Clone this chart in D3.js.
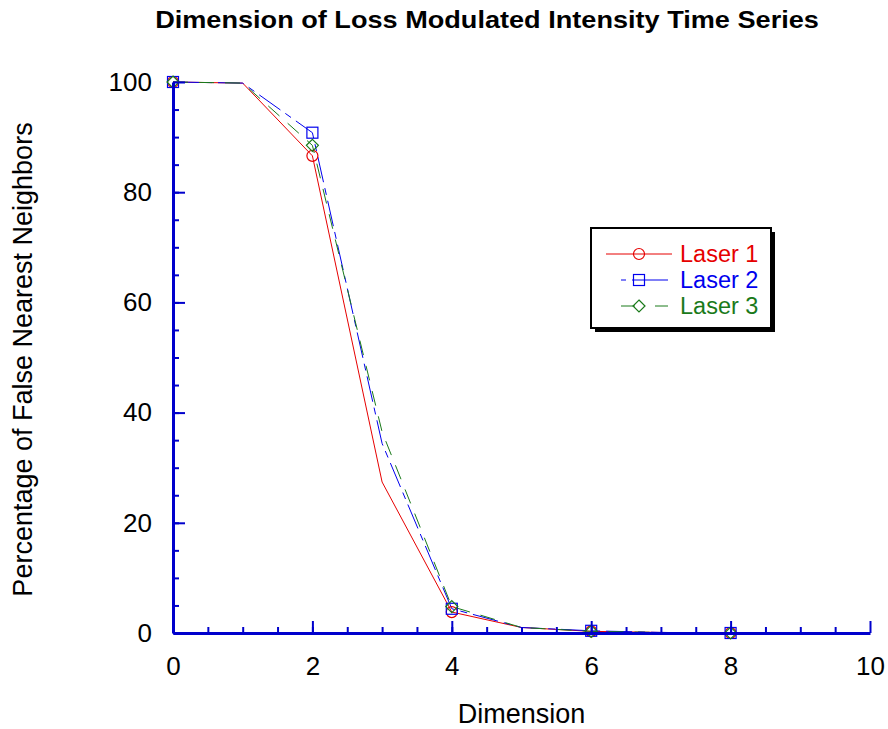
<!DOCTYPE html>
<html>
<head>
<meta charset="utf-8">
<script src="https://cdn.jsdelivr.net/npm/d3@7"></script>
<style>
  body { margin: 0; background: #fff; }
  svg { font-family: "Liberation Sans", Arial, sans-serif; }
</style>
</head>
<body>
<div class="chart"></div>
<script>
// values
const dims = [0, 1, 2, 3, 4, 5, 6, 7, 8]
const laser1 = [100, 99.8, 86.6, 27.4, 3.8, 1.0, 0.3, 0.1, 0]
const laser2 = [100, 99.8, 90.8, 34.4, 4.4, 1.0, 0.4, 0.1, 0]
const laser3 = [100, 99.8, 88.5, 36.5, 4.8, 1.0, 0.3, 0.1, 0]
const seriesNames = ['Laser 1', 'Laser 2', 'Laser 3']
const xTickValues = [0, 2, 4, 6, 8, 10]
const yTickValues = [0, 20, 40, 60, 80, 100]

const width = 888
const height = 729
const margin = {top: 82, right: 18, bottom: 96, left: 173}
const innerW = width - margin.left - margin.right
const innerH = height - margin.top - margin.bottom
const axisColor = '#0000cc'

const styles = [
  {color: '#e60000', dash: null, marker: 'circle'},
  {color: '#0000ee', dash: '26,6,7,6', marker: 'square'},
  {color: '#1a7a1a', dash: '15,11', marker: 'diamond'}
]
const allSeries = [laser1, laser2, laser3]

const xScale = d3.scaleLinear().domain([0, 10]).range([0, innerW])
const yScale = d3.scaleLinear().domain([0, 100]).range([innerH, 0])

const svg = d3.select('.chart').append('svg')
  .attr('width', width)
  .attr('height', height)

// title - reference font is wider than Liberation bold, so stretch it a bit
svg.append('text')
  .attr('transform', 'translate(487,28) scale(1.13,1)')
  .attr('text-anchor', 'middle')
  .style('font-weight', 'bold')
  .style('font-size', '24px')
  .text('Dimension of Loss Modulated Intensity Time Series')

const g = svg.append('g')
  .attr('transform', 'translate(' + margin.left + ',' + margin.top + ')')

// lines first, axes drawn on top
const line = d3.line()
  .x(d => xScale(d[0]))
  .y(d => yScale(d[1]))

allSeries.forEach((vals, i) => {
  const st = styles[i]
  const pts = dims.map((d, j) => [d, vals[j]])
  g.append('path')
    .datum(pts)
    .attr('fill', 'none')
    .attr('stroke', st.color)
    .attr('stroke-width', 1)
    .attr('stroke-dasharray', st.dash)
    .attr('d', line)
})

function drawMarker(sel, type, x, y, color) {
  if (type === 'circle') {
    sel.append('circle').attr('cx', x).attr('cy', y).attr('r', 5.5)
      .attr('fill', 'none').attr('stroke', color).attr('stroke-width', 1.2)
  } else if (type === 'square') {
    sel.append('rect').attr('x', x - 5.5).attr('y', y - 5.5)
      .attr('width', 11).attr('height', 11)
      .attr('fill', 'none').attr('stroke', color).attr('stroke-width', 1.2)
  } else {
    sel.append('path')
      .attr('d', `M${x},${y - 6}L${x + 6},${y}L${x},${y + 6}L${x - 6},${y}Z`)
      .attr('fill', 'none').attr('stroke', color).attr('stroke-width', 1.2)
  }
}

// markers only on every other point
allSeries.forEach((vals, i) => {
  const st = styles[i]
  dims.forEach((d, j) => {
    if (d % 2 !== 0) return
    drawMarker(g, st.marker, xScale(d), yScale(vals[j]), st.color)
  })
})

// x axis: minor ticks, then major ticks with labels
g.append('g')
  .attr('transform', 'translate(0,' + innerH + ')')
  .call(d3.axisBottom(xScale).tickValues(d3.range(0.5, 10, 0.5)).tickSize(-6).tickFormat(''))
  .call(a => a.select('.domain').remove())
  .call(a => a.selectAll('line').attr('stroke', axisColor).attr('stroke-width', 2))

g.append('g')
  .attr('transform', 'translate(0,' + innerH + ')')
  .call(d3.axisBottom(xScale).tickValues(xTickValues).tickSize(-12).tickSizeOuter(0).tickPadding(24))
  .call(a => a.select('.domain').attr('stroke', axisColor).attr('stroke-width', 3))
  .call(a => a.selectAll('line').attr('stroke', axisColor).attr('stroke-width', 2))
  .call(a => a.selectAll('text').attr('fill', '#000').style('font-size', '26px').style('font-family', 'Liberation Sans, Arial, sans-serif'))

// y axis
g.append('g')
  .call(d3.axisLeft(yScale).tickValues(d3.range(5, 100, 5)).tickSize(-6).tickFormat(''))
  .call(a => a.select('.domain').remove())
  .call(a => a.selectAll('line').attr('stroke', axisColor).attr('stroke-width', 2))

g.append('g')
  .call(d3.axisLeft(yScale).tickValues(yTickValues).tickSize(-12).tickSizeOuter(0).tickPadding(21))
  .call(a => a.select('.domain').attr('stroke', axisColor).attr('stroke-width', 3))
  .call(a => a.selectAll('line').attr('stroke', axisColor).attr('stroke-width', 2))
  .call(a => a.selectAll('text').attr('fill', '#000').style('font-size', '26px').style('font-family', 'Liberation Sans, Arial, sans-serif'))

// axis titles
svg.append('text')
  .attr('x', margin.left + xScale(5))
  .attr('y', 723)
  .attr('text-anchor', 'middle')
  .style('font-size', '27px')
  .text('Dimension')

svg.append('text')
  .attr('transform', 'translate(32,' + (margin.top + yScale(50) + 2) + ') rotate(-90)')
  .attr('text-anchor', 'middle')
  .style('font-size', '27px')
  .text('Percentage of False Nearest Neighbors')

// legend with drop shadow
const leg = svg.append('g').attr('transform', 'translate(591,228)')
const legW = 180, legH = 100
leg.append('rect').attr('x', 4).attr('y', 4).attr('width', legW).attr('height', legH).attr('fill', '#000')
leg.append('rect').attr('x', 0).attr('y', 0).attr('width', legW).attr('height', legH)
  .attr('fill', '#fff').attr('stroke', '#000').attr('stroke-width', 2)

seriesNames.forEach((name, i) => {
  const st = styles[i]
  const cy = 26 + i * 26
  leg.append('line')
    .attr('x1', i === 0 ? 15 : 30).attr('x2', i === 0 ? 81 : 77)
    .attr('y1', cy).attr('y2', cy)
    .attr('stroke', st.color).attr('stroke-width', 1)
    .attr('stroke-dasharray', i === 0 ? null : (i === 1 ? '5,6,40' : '14,20,40'))
  drawMarker(leg, st.marker, 48, cy, st.color)
  leg.append('text')
    .attr('x', 89).attr('y', cy + 8)
    .attr('fill', st.color)
    .style('font-size', '23.5px')
    .text(name)
})
</script>
</body>
</html>
